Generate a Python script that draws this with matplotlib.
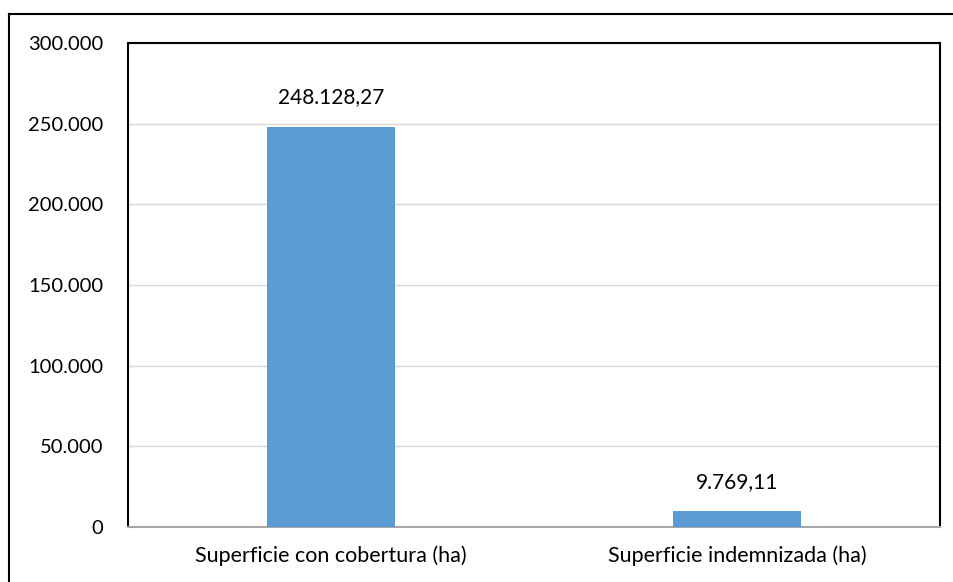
import matplotlib
matplotlib.use("Agg")
import matplotlib.pyplot as plt
from matplotlib.lines import Line2D
from matplotlib.ticker import FuncFormatter

categories = ["Superficie con cobertura (ha)", "Superficie indemnizada (ha)"]
values = [248128.27, 9769.11]
value_labels = ["248.128,27", "9.769,11"]
yticks = [0, 50000, 100000, 150000, 200000, 250000, 300000]

plt.rcParams['font.family'] = ['Lato', 'DejaVu Sans']

W, H = 954, 582
fig = plt.figure(figsize=(W / 100, H / 100), dpi=100)
ax = fig.add_axes([128 / W, 1 - 527 / H, (940 - 128) / W, (527 - 43) / H])

x = list(range(len(categories)))
bars = ax.bar(x, values, width=0.313, color="#5B9BD5", zorder=3)
ax.set_xlim(-0.5, len(categories) - 0.5)
ax.set_ylim(0, 300000)
ax.set_yticks(yticks)
ax.yaxis.set_major_formatter(FuncFormatter(lambda v, p: f"{int(v):,}".replace(",", ".")))
ax.set_xticks(x)
ax.set_xticklabels(categories)
ax.tick_params(axis='both', length=0, colors="black")
ax.tick_params(axis='y', pad=18, labelsize=14.5)
ax.tick_params(axis='x', pad=13, labelsize=15.5)
ax.grid(axis='y', color="#D9D9D9", linewidth=1, zorder=0)
for s in ['left', 'top', 'right']:
    ax.spines[s].set_color("black")
    ax.spines[s].set_linewidth(1.5)
ax.spines['bottom'].set_color("#A6A6A6")
ax.spines['bottom'].set_linewidth(1.5)

for b, lab in zip(bars, value_labels):
    ax.annotate(lab, (b.get_x() + b.get_width() / 2, b.get_height()),
                xytext=(0, 14), textcoords='offset points', ha='center', va='bottom',
                fontsize=15)

# outer chart border (cropped)
x0 = 9.5 / W
y1 = 1 - 13.5 / H
fig.add_artist(Line2D([x0, x0], [0, y1], transform=fig.transFigure, color="black", linewidth=1.5))
fig.add_artist(Line2D([x0, 1], [y1, y1], transform=fig.transFigure, color="black", linewidth=1.5))

fig.savefig("out.png", dpi=100)
